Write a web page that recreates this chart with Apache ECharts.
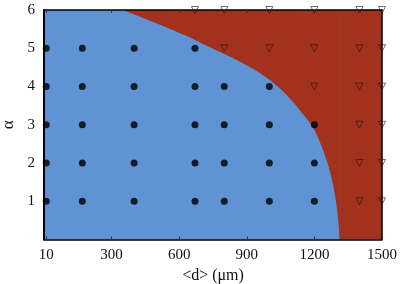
<!DOCTYPE html>
<html>
<head>
<meta charset="utf-8">
<script src="https://cdn.jsdelivr.net/npm/echarts@6/dist/echarts.min.js"></script>
<style>html,body{margin:0;padding:0;background:#fff}#c{width:408px;height:284px}</style>
</head>
<body>
<div id="c"></div>
<script>
// Tick values / labels
const xTickValues = [10, 300, 600, 900, 1200, 1500];
const yTickValues = [1, 2, 3, 4, 5, 6];

// Boundary between the two regions (d, alpha)
const boundaryD     = [355, 484, 626, 750, 870, 972, 1047, 1105, 1147, 1189, 1223, 1260, 1280, 1298, 1308, 1314];
const boundaryAlpha = [6,   5.7, 5.35, 5.0, 4.66, 4.31, 3.96, 3.61, 3.31, 2.99, 2.6, 2.0, 1.56, 1.0, 0.5, 0];
// Fully unstable strip at large d
const stripD     = [1314, 1500];
const stripAlpha = [0, 0];

// Filled circles (d, alpha)
const circleD     = [10,170,400,670,800,1000,1200, 10,170,400,670,800,1000,1200, 10,170,400,670,800,1000,1200, 10,170,400,670,800,1000, 10,170,400,670];
const circleAlpha = [1,1,1,1,1,1,1, 2,2,2,2,2,2,2, 3,3,3,3,3,3,3, 4,4,4,4,4,4, 5,5,5,5];

// Open down-triangles (d, alpha)
const triD     = [1400,1500, 1400,1500, 1400,1500, 1200,1400,1500, 800,1000,1200,1400,1500, 670,800,1000,1200,1400,1500];
const triAlpha = [1,1, 2,2, 3,3, 4,4,4, 5,5,5,5,5, 6,6,6,6,6,6];

const boundary = boundaryD.map((d, i) => [d, boundaryAlpha[i]]);
const strip = stripD.map((d, i) => [d, stripAlpha[i]]);
const circles = circleD.map((d, i) => [d, circleAlpha[i]]);
const tris = triD.map((d, i) => [d, triAlpha[i]]);

const blue = '#5f93d3', red = '#a2311d';
const font = 'Liberation Serif';
const chart = echarts.init(document.getElementById('c'), null, {renderer: 'canvas'});
chart.setOption({
  animation: false,
  grid: {left: 44, right: 26, top: 10, bottom: 44.5, show: true, backgroundColor: blue, borderWidth: 0,
         containLabel: false, outerBoundsMode: 'none'},
  xAxis: [{
    type: 'value', min: 0, max: 1500, position: 'bottom', z: 5,
    axisLine: {show: true, onZero: false, lineStyle: {color: '#000', width: 1.5}},
    axisTick: {show: true, inside: true, length: 3, customValues: xTickValues, lineStyle: {color: '#333', width: 1}},
    axisLabel: {customValues: xTickValues, color: '#111', fontFamily: font, fontSize: 15, margin: 8,
      formatter: v => String(v)},
    splitLine: {show: false},
    name: '<d> (μm)', nameLocation: 'middle', nameGap: 27,
    nameTextStyle: {color: '#111', fontFamily: font, fontSize: 16}
  }, {
    type: 'value', min: 0, max: 1500, position: 'top', z: 5,
    axisLine: {show: true, onZero: false, lineStyle: {color: '#000', width: 1.5}},
    axisTick: {show: true, inside: true, length: 3, customValues: xTickValues, lineStyle: {color: '#333', width: 1}},
    axisLabel: {show: false},
    splitLine: {show: false}
  }],
  yAxis: [{
    type: 'value', min: 0, max: 6, interval: 1, position: 'left', z: 5,
    axisLine: {show: true, onZero: false, lineStyle: {color: '#000', width: 2}},
    axisTick: {show: false},
    axisLabel: {color: '#111', fontFamily: font, fontSize: 15, margin: 9, showMinLabel: false,
      formatter: v => yTickValues.includes(v) ? String(v) : ''},
    splitLine: {show: false},
    name: 'α', nameLocation: 'middle', nameGap: 26,
    nameTextStyle: {color: '#111', fontFamily: font, fontSize: 17}
  }, {
    type: 'value', min: 0, max: 6, interval: 1, position: 'right', z: 5,
    axisLine: {show: true, onZero: false, lineStyle: {color: '#000', width: 1.5}},
    axisTick: {show: false}, axisLabel: {show: false}, splitLine: {show: false}
  }],
  series: [{
    type: 'line', data: strip, symbol: 'none',
    lineStyle: {width: 0}, areaStyle: {color: red, opacity: 1, origin: 'end'}, z: 1
  }, {
    type: 'line', data: boundary, smooth: 0.4, symbol: 'none',
    lineStyle: {width: 1, color: red}, areaStyle: {color: red, opacity: 1, origin: 'end'}, z: 1
  }, {
    type: 'scatter', data: circles, symbol: 'circle', symbolSize: 7,
    itemStyle: {color: '#000'}, z: 6
  }, {
    type: 'scatter', data: tris, symbol: 'triangle', symbolRotate: 180, symbolSize: 7,
    itemStyle: {color: 'rgba(0,0,0,0)', borderColor: '#2a1410', borderWidth: 0.8}, z: 6
  }]
});
</script>
</body>
</html>
